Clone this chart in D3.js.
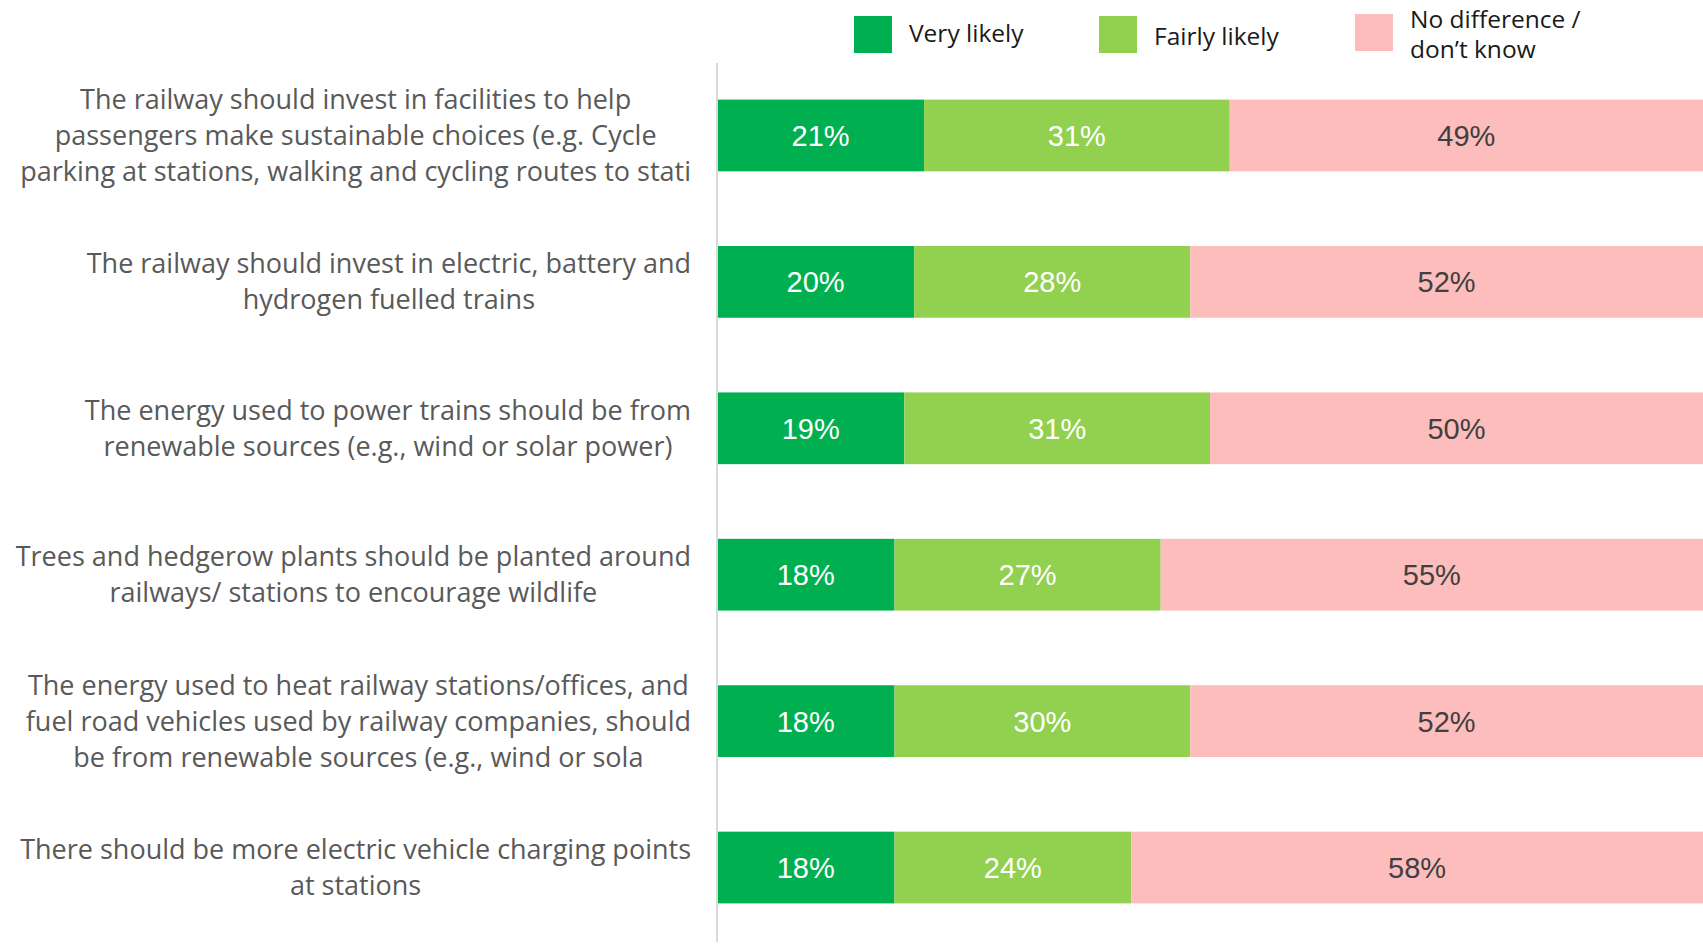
<!DOCTYPE html>
<html>
<head>
<meta charset="utf-8">
<script src="https://cdn.jsdelivr.net/npm/d3@7"></script>
<style>
  body { margin: 0; background: #fff; }
  svg { display: block; }
</style>
</head>
<body>
<div id="chart"></div>
<script>
// statements (wrapped as in the original chart)
const categories = [
  ["The railway should invest in facilities to help", "passengers make sustainable choices (e.g. Cycle", "parking at stations, walking and cycling routes to stati"],
  ["The railway should invest in electric, battery and", "hydrogen fuelled trains"],
  ["The energy used to power trains should be from", "renewable sources (e.g., wind or solar power)"],
  ["Trees and hedgerow plants should be planted around", "railways/ stations to encourage wildlife"],
  ["The energy used to heat railway stations/offices, and", "fuel road vehicles used by railway companies, should", "be from renewable sources (e.g., wind or sola"],
  ["There should be more electric vehicle charging points", "at stations"]
];
const veryLikely   = [21, 20, 19, 18, 18, 18];
const fairlyLikely = [31, 28, 31, 27, 30, 24];
const noDifference = [49, 52, 50, 55, 52, 58];

const seriesNames = ["Very likely", "Fairly likely", "No difference / don\u2019t know"];
const keys = ["very", "fairly", "nodiff"];

const width = 1703, height = 945;
const axisX = 717;

const svg = d3.select("#chart")
    .append("svg")
    .attr("width", width)
    .attr("height", height);

const rows = categories.map((c, i) => ({
    id: i,
    lines: c,
    very: veryLikely[i],
    fairly: fairlyLikely[i],
    nodiff: noDifference[i]
}));

const yScale = d3.scaleBand()
    .domain(rows.map(d => d.id))
    .range([63, 940])
    .paddingInner(0.51)
    .paddingOuter(0.25);

const xScale = d3.scaleLinear()
    .domain([0, 100])
    .range([axisX, width]);

const color = d3.scaleOrdinal()
    .domain(keys)
    .range(["#00b050", "#92d050", "#fdbdbd"]);

const textColor = d3.scaleOrdinal()
    .domain(keys)
    .range(["#ffffff", "#ffffff", "#404040"]);

const stacked = d3.stack().keys(keys)(rows);

// bars
const layers = svg.append("g")
    .selectAll("g")
    .data(stacked)
    .enter().append("g")
    .attr("fill", d => color(d.key));

layers.selectAll("rect")
    .data(d => d.map(v => ({key: d.key, v})))
    .enter().append("rect")
    .attr("x", d => xScale(d.v[0]))
    .attr("y", d => yScale(d.v.data.id))
    .attr("width", d => xScale(d.v[1]) - xScale(d.v[0]))
    .attr("height", yScale.bandwidth());

// value labels
layers.selectAll("text")
    .data(d => d.map(v => ({key: d.key, v})))
    .enter().append("text")
    .attr("x", d => (xScale(d.v[0]) + Math.min(xScale(d.v[1]), width)) / 2)
    .attr("y", d => yScale(d.v.data.id) + yScale.bandwidth() / 2)
    .attr("dy", "0.36em")
    .attr("text-anchor", "middle")
    .style("font-family", "'Liberation Sans', Arial, sans-serif")
    .style("font-size", "29px")
    .attr("fill", d => textColor(d.key))
    .text(d => (d.v[1] - d.v[0]) + "%");

// vertical axis line
svg.append("line")
    .attr("x1", axisX).attr("x2", axisX)
    .attr("y1", 63).attr("y2", 942)
    .attr("stroke", "#d9d9d9")
    .attr("stroke-width", 2);

// category labels: block right-aligned to the axis, lines centered inside the block
const labelRight = 691;
const lineH = 36;
const labels = svg.append("g")
    .style("font-family", "'Open Sans', sans-serif")
    .style("font-size", "27px")
    .attr("fill", "#595959");

rows.forEach(r => {
    const g = labels.append("g");
    const cy = yScale(r.id) + yScale.bandwidth() / 2;
    const n = r.lines.length;
    const texts = r.lines.map((ln, j) => g.append("text")
        .attr("y", cy + (j - (n - 1) / 2) * lineH)
        .attr("dy", "0.35em")
        .attr("text-anchor", "middle")
        .text(ln));
    const maxW = d3.max(texts, t => t.node().getComputedTextLength());
    texts.forEach(t => t.attr("x", labelRight - maxW / 2));
});

// legend
const legendX = [854, 1099, 1355];
const legend = svg.append("g")
    .style("font-family", "'Open Sans', sans-serif")
    .style("font-size", "24.5px")
    .attr("fill", "#1a1a1a");

keys.forEach((k, i) => {
    const g = legend.append("g").attr("transform", `translate(${legendX[i]},0)`);
    g.append("rect")
        .attr("x", 0)
        .attr("y", i === 2 ? 14 : 16)
        .attr("width", 38)
        .attr("height", 37)
        .attr("fill", color(k));
    if (i === 2) {
        g.append("text").attr("x", 55).attr("y", 19).attr("dy", "0.35em").text("No difference /");
        g.append("text").attr("x", 55).attr("y", 49).attr("dy", "0.35em").text("don\u2019t know");
    } else {
        g.append("text")
            .attr("x", 55)
            .attr("y", i === 0 ? 33 : 36)
            .attr("dy", "0.35em")
            .text(seriesNames[i]);
    }
});
</script>
</body>
</html>
